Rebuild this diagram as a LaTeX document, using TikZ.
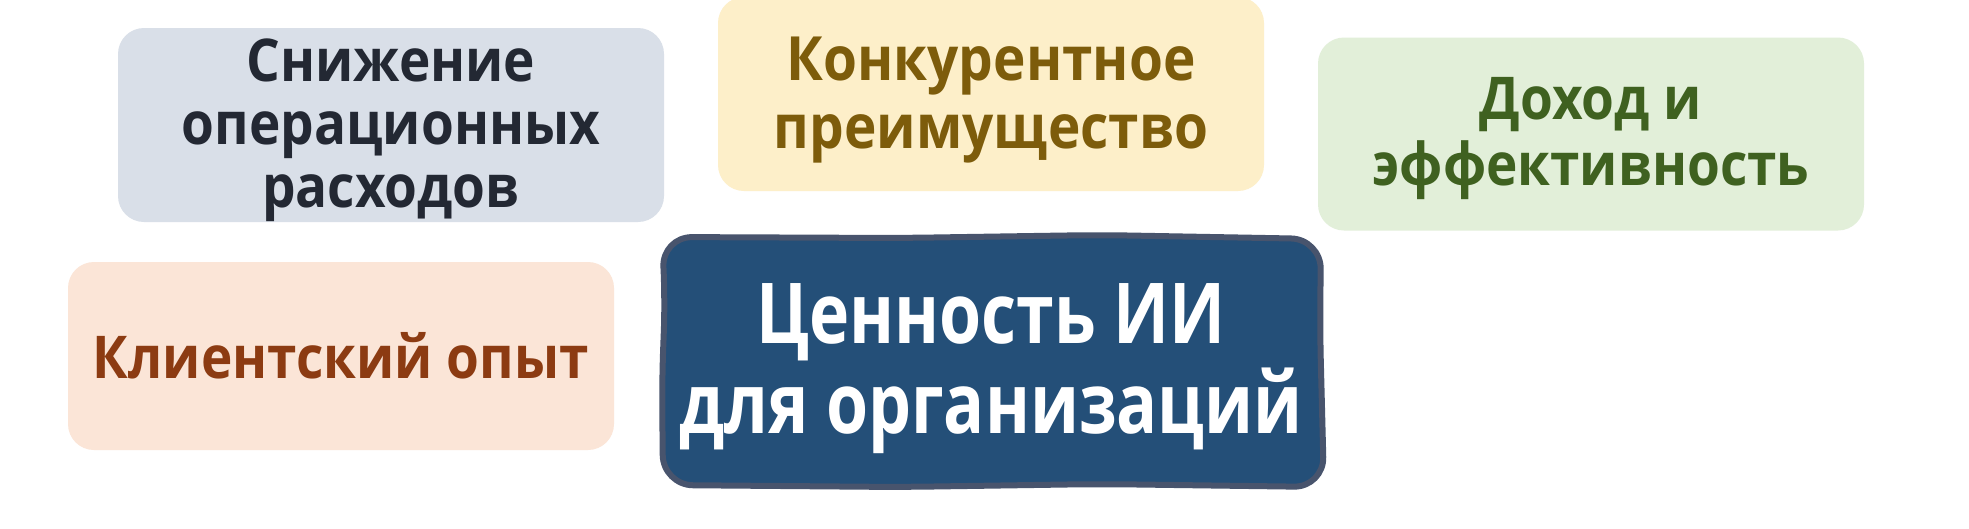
\documentclass[tikz,border=0pt]{standalone}
\usepackage{fontspec}
\newfontfamily\lblfont{Open Sans}[FakeStretch=0.9]
\newfontfamily\corefont{Open Sans}[FakeStretch=0.81]
\definecolor{fillA}{HTML}{D9DFE8}
\definecolor{txtA}{HTML}{232833}
\definecolor{fillB}{HTML}{FDEFC9}
\definecolor{txtB}{HTML}{7D5C0B}
\definecolor{fillC}{HTML}{E2EFD9}
\definecolor{txtC}{HTML}{3F6120}
\definecolor{fillD}{HTML}{FBE5D7}
\definecolor{txtD}{HTML}{8C3B12}
\definecolor{coreFill}{HTML}{244F78}
\definecolor{coreEdge}{HTML}{48546D}
\tikzset{
  satbox/.style={rounded corners=26pt, inner sep=0pt, align=center,
    minimum width=546pt, font=\lblfont\bfseries\fontsize{59}{63}\selectfont},
  corebox/.style={inner sep=0pt, align=center, text=white,
    font=\corefont\bfseries\fontsize{84}{90}\selectfont},
  coreline/.style={draw=coreEdge, fill=coreFill, line width=6pt, rounded corners=30pt, line join=round}
}
\begin{document}
\begin{tikzpicture}[x=1pt,y=-1pt]
\useasboundingbox (0,0) rectangle (1969,528);
\fill[white] (0,0) rectangle (1969,528);
% satellite boxes
\node[satbox, fill=fillA, text=txtA, minimum height=194pt] (cost) at (391,125) {};
\node[align=center, inner sep=0pt, text=txtA, font=\lblfont\bfseries\fontsize{59}{63}\selectfont]
  (costtext) at (391,130) {Снижение\\операционных\\расходов};
\node[satbox, fill=fillB, text=txtB, minimum height=194pt] (edge) at (991,94) {};
\node[align=center, inner sep=0pt, text=txtB, font=\lblfont\bfseries\fontsize{61}{68}\selectfont]
  (edgetext) at (991,100) {Конкурентное\\преимущество};
\node[satbox, fill=fillC, text=txtC, minimum height=193pt] (income) at (1591,134) {};
\node[align=center, inner sep=0pt, text=txtC, font=\lblfont\bfseries\fontsize{59}{66}\selectfont]
  (incometext) at (1591,139) {Доход и\\эффективность};
\node[satbox, fill=fillD, text=txtD, minimum height=188pt] (client) at (341,356)
  {Клиентский опыт};
% central hand-drawn box
\draw[coreline] (900,238) -- (1100,235) -- (1321,239) -- (1320,330)
  -- (1324,487) -- (1100,484) -- (900,487) -- (663,485) -- (662,380)
  -- (665,300) -- (662,237) -- cycle;
\node[corebox] (core) at (991,369) {Ценность ИИ\\для организаций};
\end{tikzpicture}
\end{document}
